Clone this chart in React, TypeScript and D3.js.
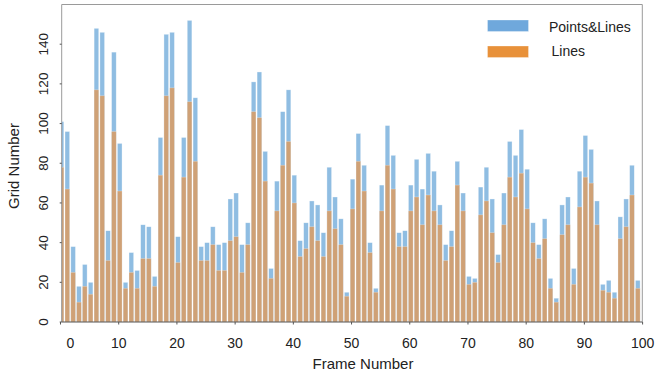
import React, { useMemo } from "react";
import * as d3 from "d3";

const frames = d3.range(0, 100);

// Points&Lines grid counts per frame
const pointsLines = [
    101, 96, 38, 18, 29, 20, 148, 146, 46, 136,
    90, 20, 35, 26, 49, 48, 23, 93, 145, 146,
    43, 93, 152, 113, 38, 40, 48, 39, 40, 62,
    65, 39, 50, 121, 126, 86, 27, 71, 106, 117,
    74, 41, 50, 61, 59, 45, 78, 63, 52, 15,
    72, 95, 79, 40, 17, 69, 99, 84, 45, 46,
    69, 82, 67, 85, 76, 59, 39, 46, 81, 65,
    23, 22, 68, 78, 62, 34, 65, 91, 84, 97,
    77, 50, 39, 52, 22, 12, 59, 63, 27, 76,
    94, 87, 61, 19, 21, 15, 53, 62, 79, 21,
];

// Lines grid counts per frame
const linesOnly = [
    78, 67, 25, 10, 18, 14, 117, 114, 31, 96,
    66, 17, 25, 17, 32, 32, 18, 74, 114, 118,
    30, 73, 111, 81, 31, 31, 39, 26, 26, 41,
    43, 25, 39, 106, 103, 71, 22, 56, 79, 91,
    60, 33, 37, 48, 41, 33, 56, 47, 39, 13,
    57, 81, 66, 35, 15, 56, 79, 67, 38, 38,
    56, 63, 49, 64, 56, 49, 31, 38, 69, 56,
    19, 20, 54, 61, 45, 30, 49, 73, 63, 75,
    57, 40, 32, 42, 17, 10, 44, 49, 19, 58,
    73, 70, 49, 16, 15, 12, 42, 48, 64, 17,
];

const xTicks = [0, 10, 20, 30, 40, 50, 60, 70, 80, 90, 100];
const yTicks = [0, 20, 40, 60, 80, 100, 120, 140];
const seriesNames = ["Points&Lines", "Lines"];

const W = 657;
const H = 372;
const font = "'Liberation Sans', Arial, sans-serif";

export default function App() {
    const left = 61.7;
    const right = 642.3;
    const top = 4.5;
    const bottom = 322;

    const x = useMemo(() => d3.scaleLinear([0, 100], [60.5, 642.6]), []);
    const y = useMemo(() => d3.scaleLinear([0, 160], [bottom, top]), []);
    const step = x(1) - x(0);
    const bw = step * 0.8;

    return (
        <svg width={W} height={H} style={{ position: "absolute", top: 0, left: 0, background: "#fff" }}>
            <defs>
                <clipPath id="plot">
                    <rect x={left} y={top} width={right - left} height={bottom - top} />
                </clipPath>
            </defs>
            <g clipPath="url(#plot)">
                {frames.map((f) => (
                    <rect
                        key={`pl${f}`}
                        x={x(f) + 1 - bw / 2}
                        y={y(pointsLines[f])}
                        width={bw}
                        height={bottom - y(pointsLines[f])}
                        fill="#8fbde2"
                        stroke="#fff"
                        strokeOpacity={0.55}
                        strokeWidth={0.6}
                    />
                ))}
                {frames.map((f) => (
                    <rect
                        key={`l${f}`}
                        x={x(f) + 1 - bw / 2}
                        y={y(linesOnly[f])}
                        width={bw}
                        height={bottom - y(linesOnly[f])}
                        fill="#cfa176"
                        stroke="#fff"
                        strokeOpacity={0.4}
                        strokeWidth={0.6}
                    />
                ))}
            </g>
            {/* frame */}
            <path
                d={`M${left},${bottom}V${top}H${right}V${bottom}`}
                fill="none"
                stroke="#9a9a9a"
                strokeWidth={1}
            />
            <line x1={left} x2={right} y1={bottom} y2={bottom} stroke="#555" strokeWidth={1} />
            {/* y ticks */}
            {yTicks.map((t) => (
                <g key={`yt${t}`}>
                    <line x1={left - 2} x2={left} y1={y(t)} y2={y(t)} stroke="#555" />
                    <text
                        transform={`translate(${48},${y(t)}) rotate(-90)`}
                        textAnchor="middle"
                        fontFamily={font}
                        fontSize={13.5}
                        fill="#222"
                    >
                        {t}
                    </text>
                </g>
            ))}
            {/* x ticks */}
            {xTicks.map((t) => (
                <g key={`xt${t}`}>
                    <line x1={x(t)} x2={x(t)} y1={bottom} y2={bottom + 2.5} stroke="#555" />
                    <text
                        x={t === 0 ? x(t) + 10 : x(t)}
                        y={347.5}
                        textAnchor="middle"
                        fontFamily={font}
                        fontSize={14}
                        fill="#222"
                    >
                        {t}
                    </text>
                </g>
            ))}
            <text
                x={363}
                y={369}
                textAnchor="middle"
                fontFamily={font}
                fontSize={15}
                fill="#222"
            >
                Frame Number
            </text>
            <text
                transform={`translate(${19},${166}) rotate(-90)`}
                textAnchor="middle"
                fontFamily={font}
                fontSize={15}
                fill="#222"
            >
                Grid Number
            </text>
            {/* legend */}
            <g>
                <rect x={487.5} y={20} width={41} height={11.5} fill="#6fa8dc" stroke="#fff" strokeOpacity={0.5} strokeWidth={0.6} />
                <text x={549} y={27} dy="0.35em" fontFamily={font} fontSize={14} fill="#222">
                    {seriesNames[0]}
                </text>
                <rect x={487.5} y={46} width={41} height={11.5} fill="#e8913a" stroke="#fff" strokeOpacity={0.5} strokeWidth={0.6} />
                <text x={551.5} y={51.5} dy="0.35em" fontFamily={font} fontSize={14} fill="#222">
                    {seriesNames[1]}
                </text>
            </g>
        </svg>
    );
}
